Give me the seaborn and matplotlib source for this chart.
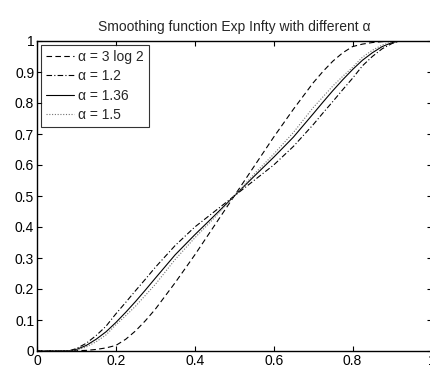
import matplotlib
matplotlib.use("Agg")
import matplotlib.pyplot as plt
import pandas as pd
import seaborn as sns

sns.set_theme(style="ticks")
plt.rcParams["font.family"] = ["Liberation Sans", "DejaVu Sans"]

# values
x = [0, 0.08, 0.1, 0.125, 0.15, 0.175, 0.2, 0.225, 0.25, 0.275, 0.3, 0.35, 0.4, 0.45, 0.5,
     0.55, 0.6, 0.65, 0.7, 0.725, 0.75, 0.775, 0.8, 0.825, 0.85, 0.875, 0.9, 0.92, 1.0]
y_3log2 = [0, 0, 0.001, 0.002, 0.005, 0.01, 0.018, 0.038, 0.065, 0.098, 0.135, 0.22, 0.31, 0.405, 0.5,
           0.595, 0.69, 0.78, 0.865, 0.902, 0.935, 0.962, 0.982, 0.99, 0.995, 0.998, 0.999, 1, 1]
y_1_2 = [0, 0, 0.008, 0.025, 0.05, 0.08, 0.12, 0.157, 0.195, 0.232, 0.27, 0.34, 0.4, 0.45, 0.5,
         0.55, 0.6, 0.66, 0.73, 0.768, 0.805, 0.843, 0.88, 0.92, 0.95, 0.975, 0.992, 1, 1]
y_1_36 = [0, 0, 0.005, 0.018, 0.038, 0.062, 0.092, 0.125, 0.16, 0.197, 0.235, 0.31, 0.375, 0.437, 0.5,
          0.563, 0.625, 0.69, 0.765, 0.803, 0.84, 0.875, 0.908, 0.938, 0.962, 0.982, 0.995, 1, 1]
y_1_5 = [0, 0, 0.003, 0.013, 0.03, 0.052, 0.085, 0.114, 0.145, 0.18, 0.215, 0.295, 0.365, 0.43, 0.5,
         0.57, 0.635, 0.705, 0.785, 0.82, 0.855, 0.886, 0.915, 0.948, 0.97, 0.987, 0.997, 1, 1]

labels = ["α = 3 log 2", "α = 1.2", "α = 1.36", "α = 1.5"]
series = [y_3log2, y_1_2, y_1_36, y_1_5]
styles = [(0, (5, 3)), (0, (5, 2, 1, 2)), "-", (0, (1, 1.5))]
colors = ["black", "black", "black", "0.45"]

fig = plt.figure(figsize=(4.3, 3.67), dpi=100)
ax = fig.add_axes([37 / 430, 16 / 367, 394.5 / 430, 310 / 367])

for ys, lab, ls, c in zip(series, labels, styles, colors):
    df = pd.DataFrame({"x": x, "y": ys})
    sns.lineplot(data=df, x="x", y="y", ax=ax, label=lab, color=c,
                 linestyle=ls, linewidth=0.8, sort=False)

ax.set_xlim(0, 1)
ax.set_ylim(0, 1)
ax.set_xticks([0, 0.2, 0.4, 0.6, 0.8, 1])
ax.set_xticklabels(["0", "0.2", "0.4", "0.6", "0.8", "1"])
ax.set_yticks([i / 10 for i in range(11)])
ax.set_yticklabels(["0"] + [f"{i / 10:.1f}" for i in range(1, 10)] + ["1"])
ax.set_xlabel("")
ax.set_ylabel("")
ax.tick_params(direction="in", length=3.5, width=0.8, labelsize=10,
               top=True, right=True, pad=2, colors="black")
for s in ax.spines.values():
    s.set_visible(True)
    s.set_color("black")
    s.set_linewidth(1.0)
ax.set_title("Smoothing function Exp Infty with different α", fontsize=10, pad=7)

leg = ax.legend(loc="upper left", fontsize=10, frameon=True, fancybox=False,
                handlelength=2.0, handletextpad=0.3, borderpad=0.35,
                labelspacing=0.38, borderaxespad=0.3)
leg.get_frame().set_edgecolor("black")
leg.get_frame().set_linewidth(0.8)

fig.savefig("out.png", dpi=100)
